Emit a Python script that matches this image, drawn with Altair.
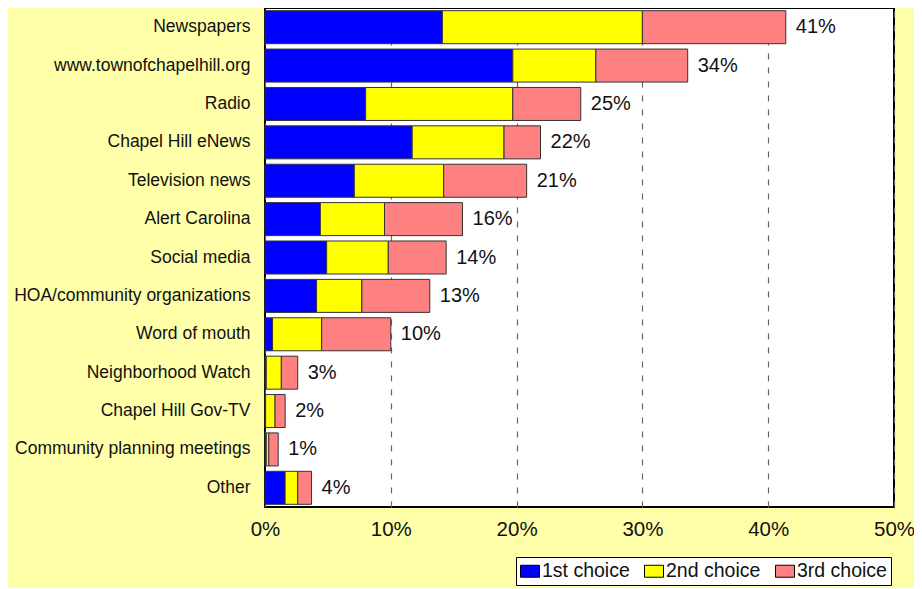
import altair as alt
import pandas as pd

categories = [
    "Newspapers", "www.townofchapelhill.org", "Radio", "Chapel Hill eNews",
    "Television news", "Alert Carolina", "Social media",
    "HOA/community organizations", "Word of mouth", "Neighborhood Watch",
    "Chapel Hill Gov-TV", "Community planning meetings", "Other",
]
first_choice = [14.1, 19.7, 8.0, 11.7, 7.1, 4.4, 4.9, 4.1, 0.6, 0.1, 0.05, 0.1, 1.6]
second_choice = [15.9, 6.6, 11.7, 7.3, 7.1, 5.1, 4.9, 3.6, 3.9, 1.2, 0.75, 0.2, 1.0]
third_choice = [11.4, 7.3, 5.4, 2.9, 6.6, 6.2, 4.6, 5.4, 5.5, 1.3, 0.8, 0.75, 1.1]
total_labels = ["41%", "34%", "25%", "22%", "21%", "16%", "14%", "13%", "10%",
                "3%", "2%", "1%", "4%"]
series_names = ["1st choice", "2nd choice", "3rd choice"]
series_colors = ["#0000FF", "#FFFF00", "#FF8080"]

rows = []
for i, c in enumerate(categories):
    for k, (name, vals) in enumerate(zip(series_names, [first_choice, second_choice, third_choice])):
        rows.append({"cat": c, "series": name, "order": k, "value": vals[i] / 100})
df = pd.DataFrame(rows)

tot = pd.DataFrame({
    "cat": categories,
    "total": [(a + b + c) / 100 for a, b, c in zip(first_choice, second_choice, third_choice)],
    "label": total_labels,
})

FONT = "Liberation Sans"

y_enc = alt.Y("cat:N", sort=categories, title=None,
              scale=alt.Scale(paddingInner=0.14, paddingOuter=0.07),
              axis=alt.Axis(ticks=False, domain=False, labelFontSize=17.5,
                            labelFont=FONT, labelColor="#111", labelPadding=15,
                            labelLimit=300))

bars = alt.Chart(df).mark_bar(stroke="#333333", strokeWidth=1).encode(
    x=alt.X("value:Q", stack="zero", title=None,
            scale=alt.Scale(domain=[0, 0.5], nice=False),
            axis=alt.Axis(format="%", values=[0, 0.1, 0.2, 0.3, 0.4, 0.5],
                          ticks=False, domain=False, labelFontSize=20.5,
                          labelFont=FONT, labelColor="#111", labelPadding=12,
                          grid=True, gridColor="#666666", gridDash=[6, 8],
                          gridWidth=1.2, labelFlush=False)),
    y=y_enc,
    color=alt.Color("series:N", sort=series_names,
                    scale=alt.Scale(domain=series_names, range=series_colors),
                    legend=alt.Legend(
                        title=None, orient="none", direction="horizontal",
                        legendX=251, legendY=549,
                        fillColor="white", strokeColor="black", padding=4,
                        symbolType="M-1,-0.63L1,-0.63L1,0.63L-1,0.63Z",
                        symbolSize=361, symbolStrokeColor="black",
                        symbolStrokeWidth=1, labelFontSize=19.5, labelFont=FONT,
                        labelColor="#111", labelOffset=2, columnPadding=12,
                        symbolOffset=0)),
    order=alt.Order("order:Q"),
)

labels = alt.Chart(tot).mark_text(align="left", baseline="middle", dx=10,
                                  fontSize=20, font=FONT, color="#111").encode(
    x=alt.X("total:Q"),
    y=alt.Y("cat:N", sort=categories),
    text="label:N",
)

chart = (bars + labels).properties(
    width=629, height=499,
    background="#FFFFAA",
    padding={"left": 257, "top": 0, "right": 20, "bottom": 81},
    autosize=alt.AutoSizeParams(type="none"),
).configure_view(stroke="black", strokeWidth=2, fill="white")

chart.save("out.html", embed_options={"renderer": "svg", "actions": False})
